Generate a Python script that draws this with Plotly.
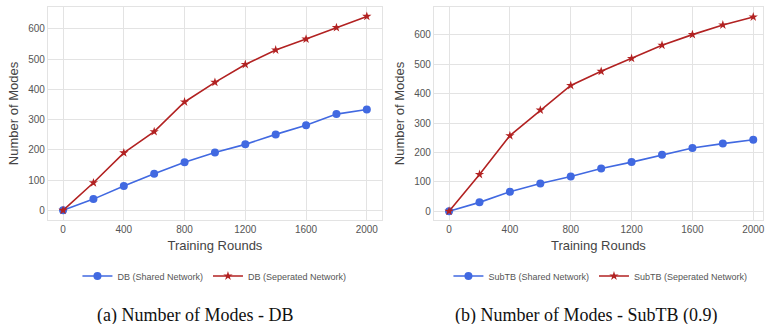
import plotly.graph_objects as go

# Training rounds shared by both panels
rounds = [0, 200, 400, 600, 800, 1000, 1200, 1400, 1600, 1800, 2000]

# Panel (a): DB
db_shared = [0, 37, 80, 121, 159, 191, 218, 251, 281, 318, 333]
db_separated = [0, 91, 190, 260, 358, 423, 482, 530, 566, 604, 641]

# Panel (b): SubTB (0.9)
subtb_shared = [0, 30, 66, 94, 118, 145, 167, 192, 215, 230, 243]
subtb_separated = [0, 125, 257, 344, 428, 476, 520, 565, 601, 634, 661]

x_ticks = [0, 400, 800, 1200, 1600, 2000]
y_ticks = [0, 100, 200, 300, 400, 500, 600]

BLUE = "#4169E1"
RED = "#B22222"
GRID = "#e3e3e3"
W, H = 765, 324

fig = go.Figure()


def add_pair(shared, separated, label, xa, ya, legend):
    fig.add_trace(go.Scatter(
        x=rounds, y=shared, mode="lines+markers", name=f"{label} (Shared Network)",
        line=dict(color=BLUE, width=1.6),
        marker=dict(symbol="circle", size=8, color=BLUE),
        xaxis=xa, yaxis=ya, legend=legend,
    ))
    fig.add_trace(go.Scatter(
        x=rounds, y=separated, mode="lines+markers", name=f"{label} (Seperated Network)",
        line=dict(color=RED, width=1.6),
        marker=dict(symbol="star", size=7, color=RED),
        xaxis=xa, yaxis=ya, legend=legend,
    ))


add_pair(db_shared, db_separated, "DB", "x", "y", "legend")
add_pair(subtb_shared, subtb_separated, "SubTB", "x2", "y2", "legend2")

y_dom = [1 - 220 / H, 1 - 7 / H]
tick_font = dict(family="Liberation Sans, Arial, sans-serif", size=10, color="#555555")
title_font = dict(family="Liberation Sans, Arial, sans-serif", size=13, color="#444444")

axis_common = dict(
    showgrid=True, gridcolor=GRID, gridwidth=1,
    showline=True, linecolor=GRID, linewidth=1, mirror=True,
    zeroline=False, ticks="", tickfont=tick_font, title_font=title_font,
    ticklabeloverflow="allow",
)

legend_font = dict(family="Liberation Sans, Arial, sans-serif", size=9, color="#555555")

fig.update_layout(
    width=W, height=H,
    margin=dict(l=0, r=0, t=0, b=0),
    paper_bgcolor="white", plot_bgcolor="white",
    xaxis=dict(domain=[48 / W, 383 / W], range=[-100, 2100], tickvals=x_ticks,
               title=dict(text="Training Rounds", standoff=6), anchor="y", **axis_common),
    yaxis=dict(domain=y_dom, range=[-32, 672], tickvals=y_ticks,
               title=dict(text="Number of Modes", standoff=6), anchor="x", **axis_common),
    xaxis2=dict(domain=[435 / W, 1.0], range=[-100, 2064], tickvals=x_ticks,
                title=dict(text="Training Rounds", standoff=6), anchor="y2", **axis_common),
    yaxis2=dict(domain=y_dom, range=[-30, 695], tickvals=y_ticks,
                title=dict(text="Number of Modes", standoff=6), anchor="x2", **axis_common),
    legend=dict(orientation="h", x=215 / W, xanchor="center", y=1 - 276 / H, yanchor="middle",
                font=legend_font, itemwidth=30, bgcolor="rgba(0,0,0,0)"),
    legend2=dict(orientation="h", x=602 / W, xanchor="center", y=1 - 276 / H, yanchor="middle",
                 font=legend_font, itemwidth=30, bgcolor="rgba(0,0,0,0)"),
    showlegend=True,
)

caption_font = dict(family="Liberation Serif, Times New Roman, serif", size=18, color="#111111")
fig.add_annotation(text="(a) Number of Modes - DB", x=196 / W, y=1 - 315 / H,
                   xref="paper", yref="paper", showarrow=False, font=caption_font,
                   xanchor="center", yanchor="middle")
fig.add_annotation(text="(b) Number of Modes - SubTB (0.9)", x=588 / W, y=1 - 315 / H,
                   xref="paper", yref="paper", showarrow=False, font=caption_font,
                   xanchor="center", yanchor="middle")

fig.write_html("out.html")
